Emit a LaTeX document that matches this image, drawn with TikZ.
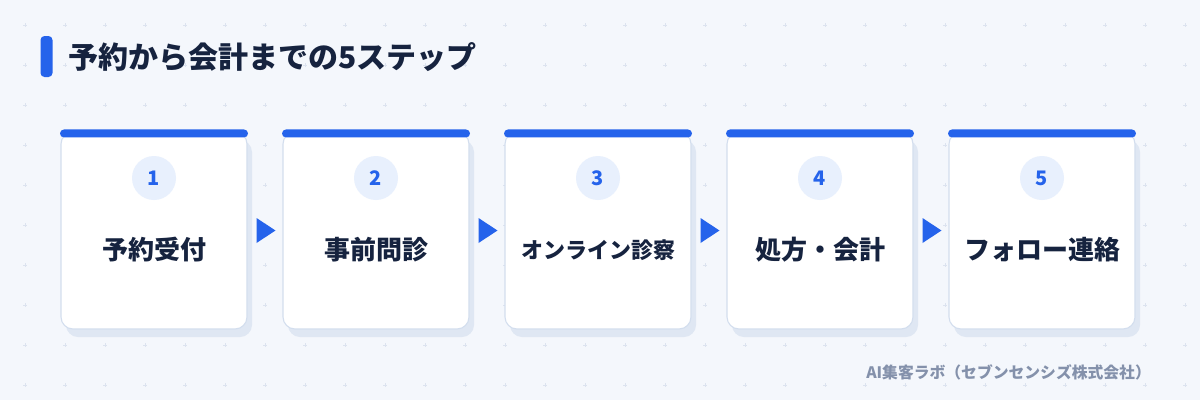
\documentclass[tikz,border=0pt]{standalone}
\usepackage{fontspec}
\setmainfont{Noto Sans CJK JP}
\usetikzlibrary{shadows,calc}
\definecolor{bgc}{HTML}{F4F7FC}
\definecolor{gridc}{HTML}{DCE3EF}
\definecolor{bluec}{HTML}{2563EB}
\definecolor{navy}{HTML}{16233F}
\definecolor{cardline}{HTML}{D3DEEE}
\definecolor{shadc}{HTML}{DFE7F3}
\definecolor{circc}{HTML}{E8F0FD}
\definecolor{footc}{HTML}{8491AB}
\begin{document}
\begin{tikzpicture}[x=1pt,y=-1pt,
  cardbox/.style={rectangle, rounded corners=12pt, draw=cardline, line width=1.1pt, fill=white,
    minimum width=186pt, minimum height=197pt, inner sep=0pt,
    drop shadow={shadow xshift=5pt, shadow yshift=-8pt, fill=shadc, opacity=1}},
  topbar/.style={rectangle, rounded corners=4pt, fill=bluec, minimum width=188pt, minimum height=8pt, inner sep=0pt},
  numcirc/.style={circle, fill=circc, minimum size=44pt, inner sep=0pt, text=bluec, font=\bfseries\fontsize{20}{20}\selectfont},
  steplabel/.style={text=navy, inner sep=0pt},
  arrowtri/.style={fill=bluec}
]
\fill[bgc] (0,0) rectangle (1200,400);
\useasboundingbox (0,0) rectangle (1200,400);
% grid of plus marks
\foreach \i in {0,...,29}{
  \foreach \j in {0,...,9}{
    \draw[gridc, line width=0.6pt] ({25+40*\i-2},{25+40*\j}) -- ({25+40*\i+2},{25+40*\j})
      ({25+40*\i},{25+40*\j-2}) -- ({25+40*\i},{25+40*\j+2});
  }
}
% heading
\node[rectangle, rounded corners=4pt, fill=bluec, minimum width=12pt, minimum height=41pt, inner sep=0pt] (hbar) at (46.5,56.5) {};
\node[anchor=west, text=navy, font=\bfseries\fontsize{30}{30}\selectfont, inner sep=0pt] (title) at (68,57) {予約から会計までの5ステップ};
% cards
\foreach \k/\lab/\fs in {1/予約受付/26,2/事前問診/26,3/オンライン診察/22,4/処方・会計/26,5/フォロー連絡/26}{
  \pgfmathsetmacro{\cx}{154+222*(\k-1)}
  \node[cardbox] (c\k) at (\cx,230.5) {};
  \node[topbar] (b\k) at ([yshift=-2pt]c\k.north) {};
  \node[numcirc] (n\k) at (\cx,178) {\k};
  \node[steplabel, font=\bfseries\fontsize{\fs}{\fs}\selectfont] (l\k) at (\cx,250) {\lab};
}
% arrows between cards
\foreach \a/\b in {1/2,2/3,3/4,4/5}{
  \coordinate (m\a) at ($(c\a.east)!0.5!(c\b.west)+(1,0)$);
  \fill[arrowtri] ($(m\a)+(-9.5,-12.5)$) -- ($(m\a)+(9.5,0)$) -- ($(m\a)+(-9.5,12.5)$) -- cycle;
}
% footer
\node[anchor=east, text=footc, font=\bfseries\fontsize{15.8}{15.8}\selectfont, inner sep=0pt] (foot) at (1151,372) {AI集客ラボ（セブンセンシズ株式会社）};
\end{tikzpicture}
\end{document}
